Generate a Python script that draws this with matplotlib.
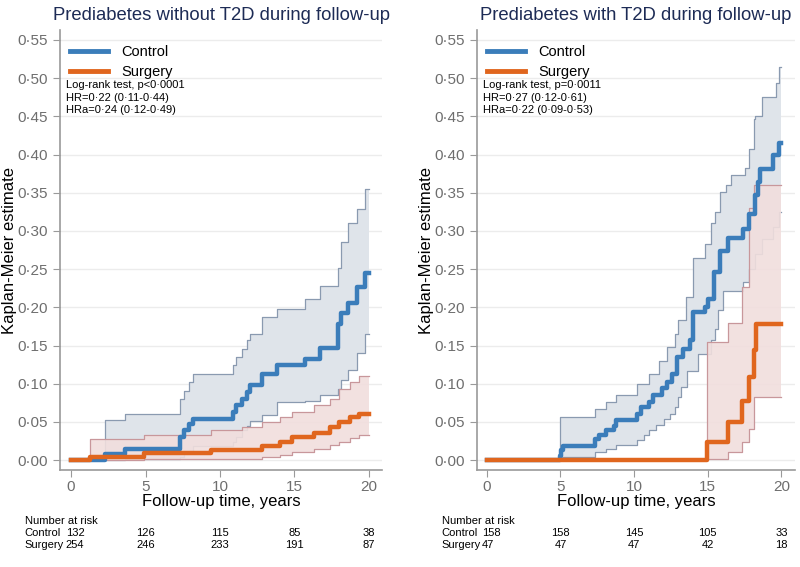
import matplotlib
matplotlib.use("Agg")
import matplotlib.pyplot as plt
from matplotlib.ticker import FuncFormatter
from matplotlib.transforms import blended_transform_factory

plt.rcParams["font.family"] = ["Liberation Sans", "DejaVu Sans"]

BLUE = "#3b7dba"
ORANGE = "#e0661e"
BLUE_FILL = "#dfe4ea"
BLUE_EDGE = "#8a9ab0"
PINK_FILL = "#f1dedd"
PINK_EDGE = "#c8979b"
TITLE_COL = "#1d2b55"

# ---- left panel: prediabetes without T2D ----
left_ctrl_t = [0, 2.3, 3.6, 7.3, 7.6, 7.9, 8.2, 10.9, 11.1, 11.5, 11.8, 12.0,
               12.8, 13.8, 15.7, 16.7, 17.9, 18.1, 18.6, 19.2, 19.7, 20]
left_ctrl_est = [0, 0.008, 0.015, 0.030, 0.039, 0.047, 0.054, 0.063, 0.072, 0.080, 0.089, 0.098,
                 0.113, 0.124, 0.132, 0.147, 0.178, 0.193, 0.206, 0.226, 0.245, 0.245]
left_ctrl_lo = [0, 0.0, 0.001, 0.004, 0.008, 0.012, 0.018, 0.024, 0.030, 0.039, 0.045, 0.051,
                0.059, 0.076, 0.078, 0.085, 0.093, 0.105, 0.118, 0.140, 0.165, 0.165]
left_ctrl_hi = [0, 0.053, 0.060, 0.080, 0.091, 0.102, 0.113, 0.124, 0.135, 0.146, 0.157, 0.165,
                0.187, 0.198, 0.211, 0.228, 0.252, 0.286, 0.310, 0.329, 0.355, 0.355]

left_surg_t = [0, 1.3, 4.9, 9.4, 11.5, 12.8, 14.0, 14.8, 16.3, 17.4, 18.0, 18.7, 19.3, 20]
left_surg_est = [0, 0.004, 0.0087, 0.013, 0.013, 0.018, 0.024, 0.030, 0.036, 0.043, 0.050, 0.056, 0.061, 0.061]
left_surg_lo = [0, 0.0002, 0.001, 0.002, 0.002, 0.0045, 0.007, 0.011, 0.015, 0.020, 0.024, 0.029, 0.033, 0.033]
left_surg_hi = [0, 0.028, 0.033, 0.039, 0.0435, 0.050, 0.057, 0.063, 0.072, 0.080, 0.093, 0.102, 0.110, 0.110]

# ---- right panel: prediabetes with T2D ----
right_ctrl_t = [0, 4.95, 5.05, 5.2, 7.35, 7.6, 8.1, 8.6, 8.8, 10.2, 10.45, 10.7, 11.0, 11.3, 11.5,
                11.7, 11.9, 12.0, 12.2, 12.4, 12.6, 12.8, 12.9, 13.0, 13.2, 13.3, 13.5, 13.6, 13.8,
                14.0, 14.3, 14.8, 15.0, 15.2, 15.4, 15.5, 15.7, 15.8, 16.0, 16.2, 16.4, 16.6,
                17.4, 17.5, 17.8, 18.1, 18.2, 18.4, 18.55, 18.7, 19.45, 19.6, 19.8, 20]
right_ctrl_est = [0, 0.006, 0.013, 0.019, 0.027, 0.033, 0.039, 0.045, 0.052, 0.061, 0.070, 0.070, 0.076, 0.085, 0.085,
                  0.085, 0.094, 0.094, 0.102, 0.102, 0.113, 0.113, 0.135, 0.135, 0.135, 0.146, 0.146, 0.146, 0.157,
                  0.194, 0.194, 0.200, 0.211, 0.211, 0.246, 0.246, 0.246, 0.274, 0.274, 0.274, 0.291, 0.291,
                  0.302, 0.302, 0.322, 0.322, 0.347, 0.364, 0.381, 0.381, 0.399, 0.399, 0.415, 0.415]
right_ctrl_lo = [0, 0.0, 0.002, 0.004, 0.011, 0.011, 0.015, 0.015, 0.020, 0.026, 0.026, 0.033, 0.039, 0.039, 0.046,
                 0.046, 0.046, 0.054, 0.054, 0.061, 0.061, 0.070, 0.070, 0.083, 0.096, 0.096, 0.096, 0.117, 0.117,
                 0.117, 0.139, 0.139, 0.139, 0.157, 0.157, 0.172, 0.196, 0.196, 0.222, 0.222, 0.222, 0.222,
                 0.233, 0.233, 0.250, 0.250, 0.270, 0.270, 0.270, 0.290, 0.305, 0.305, 0.325, 0.325]
right_ctrl_hi = [0, 0.057, 0.057, 0.057, 0.067, 0.067, 0.076, 0.076, 0.085, 0.100, 0.100, 0.100, 0.113, 0.113, 0.113,
                 0.130, 0.130, 0.130, 0.148, 0.148, 0.148, 0.165, 0.165, 0.183, 0.183, 0.183, 0.213, 0.213, 0.213,
                 0.265, 0.265, 0.283, 0.283, 0.310, 0.310, 0.325, 0.325, 0.351, 0.351, 0.360, 0.360, 0.373,
                 0.373, 0.383, 0.407, 0.446, 0.450, 0.450, 0.450, 0.476, 0.476, 0.494, 0.515, 0.515]

right_surg_t = [0, 14.95, 16.4, 17.3, 17.8, 18.1, 18.3, 20]
right_surg_est = [0, 0.024, 0.050, 0.078, 0.109, 0.144, 0.178, 0.178]
right_surg_lo = [0, 0.002, 0.011, 0.024, 0.041, 0.083, 0.083, 0.083]
right_surg_hi = [0, 0.154, 0.180, 0.226, 0.330, 0.360, 0.360, 0.360]

titles = ["Prediabetes without T2D during follow-up", "Prediabetes with T2D during follow-up"]
stats_text = [
    ["Log-rank test, p<0\u00b70001", "HR=0\u00b722 (0\u00b711-0\u00b744)", "HRa=0\u00b724 (0\u00b712-0\u00b749)"],
    ["Log-rank test, p=0\u00b70011", "HR=0\u00b727 (0\u00b712-0\u00b761)", "HRa=0\u00b722 (0\u00b709-0\u00b753)"],
]
risk_times = [0, 5, 10, 15, 20]
left_risk_ctrl = [132, 126, 115, 85, 38]
left_risk_surg = [254, 246, 233, 191, 87]
right_risk_ctrl = [158, 158, 145, 105, 33]
right_risk_surg = [47, 47, 47, 42, 18]


def dot_fmt(v, pos):
    return f"{v:.2f}".replace(".", "\u00b7")


def draw_panel(ax, ctrl, surg, title, stats, risk_c, risk_s, label_x):
    ct, ce, cl, ch = ctrl
    st, se, sl, sh = surg

    ax.fill_between(ct, cl, ch, step="post", color=BLUE_FILL, lw=0, zorder=2)
    ax.step(ct, ch, where="post", color=BLUE_EDGE, lw=0.9, zorder=3)
    ax.step(ct, cl, where="post", color=BLUE_EDGE, lw=0.9, zorder=3)
    ax.fill_between(st, sl, sh, step="post", color=PINK_FILL, alpha=0.9, lw=0, zorder=4)
    ax.step(st, sh, where="post", color=PINK_EDGE, lw=0.9, zorder=5)
    ax.step(st, sl, where="post", color=PINK_EDGE, lw=0.9, zorder=5)

    ax.step(ct, ce, where="post", color=BLUE, lw=3.2, zorder=6, label="Control")
    ax.step(st, se, where="post", color=ORANGE, lw=3.2, zorder=7, label="Surgery")

    ax.set_ylim(-0.013, 0.563)
    ax.set_yticks([i * 0.05 for i in range(12)])
    ax.yaxis.set_major_formatter(FuncFormatter(dot_fmt))
    ax.set_xticks(risk_times)
    ax.grid(axis="y", color="#ececec", lw=1.0, zorder=0)
    ax.set_axisbelow(True)
    for side in ["top", "right"]:
        ax.spines[side].set_visible(False)
    for side in ["left", "bottom"]:
        ax.spines[side].set_color("#9a9a9a")
        ax.spines[side].set_linewidth(1.2)
    ax.tick_params(colors="#9a9a9a", labelcolor="#6e6e6e", labelsize=11, length=5, width=0.8)
    ax.tick_params(axis="x", pad=2)

    ax.set_title(title, fontsize=13.3, color=TITLE_COL, pad=7)
    ax.set_xlabel("Follow-up time, years", fontsize=12, labelpad=0.5)
    ax.set_ylabel("Kaplan-Meier estimate", fontsize=12, labelpad=0.5)

    leg = ax.legend(loc="upper left", bbox_to_anchor=(0.0, 0.99), frameon=False, fontsize=10.5,
                    handlelength=2.6, borderaxespad=0.3, labelspacing=0.45, handletextpad=0.9)
    for line in leg.get_lines():
        line.set_linewidth(3.5)

    for i, s in enumerate(stats):
        ax.text(0.018, 0.874 - i * 0.028, s, transform=ax.transAxes, fontsize=8, va="center")

    fig = ax.figure
    tr = blended_transform_factory(ax.transData, fig.transFigure)
    rows_y = [0.081, 0.060, 0.039]
    fig.text(label_x, rows_y[0], "Number at risk", fontsize=8, va="center")
    fig.text(label_x, rows_y[1], "Control", fontsize=8, va="center")
    fig.text(label_x, rows_y[2], "Surgery", fontsize=8, va="center")
    for t, c, s in zip(risk_times, risk_c, risk_s):
        if t == 0:
            # first column sits right after the row label
            ax.text(t - 0.35, rows_y[1], str(c), transform=tr, fontsize=8, ha="left", va="center")
            ax.text(t - 0.35, rows_y[2], str(s), transform=tr, fontsize=8, ha="left", va="center")
        else:
            ax.text(t, rows_y[1], str(c), transform=tr, fontsize=8, ha="center", va="center")
            ax.text(t, rows_y[2], str(s), transform=tr, fontsize=8, ha="center", va="center")


fig = plt.figure(figsize=(8, 5.67), dpi=100)
ax1 = fig.add_axes([0.075, 0.171, 0.403, 0.776])
ax2 = fig.add_axes([0.596, 0.171, 0.398, 0.776])
ax1.set_xlim(-0.74, 20.9)
ax2.set_xlim(-0.68, 20.93)

draw_panel(ax1, (left_ctrl_t, left_ctrl_est, left_ctrl_lo, left_ctrl_hi),
           (left_surg_t, left_surg_est, left_surg_lo, left_surg_hi),
           titles[0], stats_text[0], left_risk_ctrl, left_risk_surg, 0.031)
draw_panel(ax2, (right_ctrl_t, right_ctrl_est, right_ctrl_lo, right_ctrl_hi),
           (right_surg_t, right_surg_est, right_surg_lo, right_surg_hi),
           titles[1], stats_text[1], right_risk_ctrl, right_risk_surg, 0.552)

fig.savefig("out.png", dpi=100, facecolor="white")
